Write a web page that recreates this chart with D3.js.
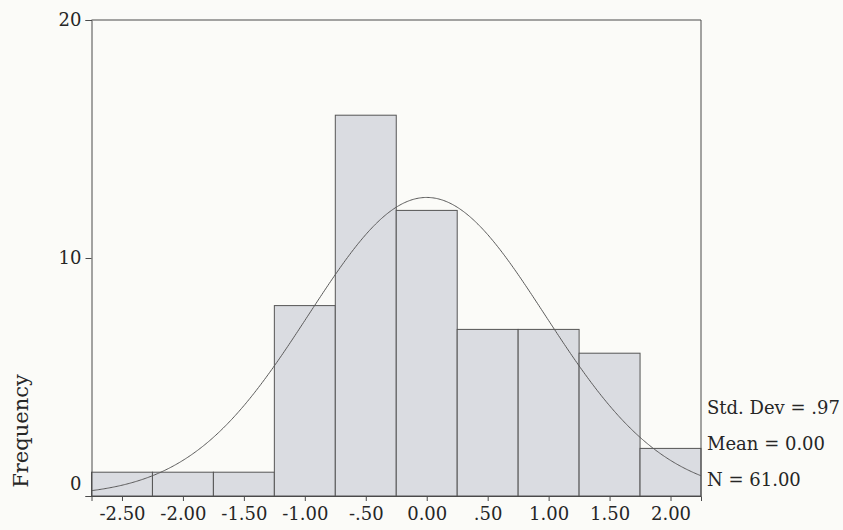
<!DOCTYPE html>
<html>
<head>
<meta charset="utf-8">
<script src="https://cdn.jsdelivr.net/npm/d3@7"></script>
<style>
  html, body { margin: 0; padding: 0; background: #fbfbf8; }
  svg { display: block; }
  text { font-family: "DejaVu Serif", "Liberation Serif", serif; fill: #262626; }
</style>
</head>
<body>
<svg id="chart" width="843" height="530"></svg>
<script>
// ---- data ----
const binCenters = [-2.5, -2.0, -1.5, -1.0, -0.5, 0.0, 0.5, 1.0, 1.5, 2.0];
const frequencies = [1, 1, 1, 8, 16, 12, 7, 7, 6, 2];
const xTickLabels = ["-2.50", "-2.00", "-1.50", "-1.00", "-.50", "0.00", ".50", "1.00", "1.50", "2.00"];
const yTicks = [0, 10, 20];
const binWidth = 0.5;
const stdDev = 0.97;
const mean = 0.00;
const nCount = 61;
const statsLines = ["Std. Dev = .97", "Mean = 0.00", "N = 61.00"];

// ---- scales ----
const svg = d3.select("#chart");
const x = d3.scaleLinear().domain([-2.75, 2.25]).range([91.5, 701]);
const y = d3.scaleLinear().domain([0, 20]).range([496, 20]);
const lineColor = "#4a4a4a";

// bars
svg.append("g").selectAll("rect")
  .data(binCenters.map((c, i) => ({c, f: frequencies[i]})))
  .join("rect")
  .attr("x", d => x(d.c - binWidth / 2))
  .attr("width", d => x(d.c + binWidth / 2) - x(d.c - binWidth / 2))
  .attr("y", d => y(d.f))
  .attr("height", d => y(0) - y(d.f))
  .attr("fill", "#dadce1")
  .attr("stroke", "#555")
  .attr("stroke-width", 1);

// frame (top & right)
svg.append("line").attr("x1", x(-2.75)).attr("x2", x(2.25)).attr("y1", y(20)).attr("y2", y(20))
  .attr("stroke", lineColor).attr("stroke-width", 1);
svg.append("line").attr("x1", x(2.25)).attr("x2", x(2.25)).attr("y1", y(20)).attr("y2", y(0))
  .attr("stroke", lineColor).attr("stroke-width", 1);

// normal curve from displayed statistics
const peak = nCount * binWidth / (stdDev * Math.sqrt(2 * Math.PI));
const curvePts = d3.range(-2.75, 2.2501, 0.01).map(v => [v, peak * Math.exp(-0.5 * Math.pow((v - mean) / stdDev, 2))]);
svg.append("path")
  .datum(curvePts)
  .attr("d", d3.line().x(d => x(d[0])).y(d => y(d[1])).curve(d3.curveLinear))
  .attr("fill", "none")
  .attr("stroke", "#5a5a5a")
  .attr("stroke-width", 1);

// y axis
const yAxis = svg.append("g").attr("transform", `translate(${x(-2.75)},0)`)
  .call(d3.axisLeft(y).tickValues(yTicks).tickSize(6).tickPadding(4).tickFormat(d3.format("d")));
yAxis.selectAll("path, line").attr("stroke", lineColor);
yAxis.selectAll("text").style("font-family", "DejaVu Serif, serif").style("font-size", "18px").attr("fill", "#262626")
  .attr("dy", d => d === 0 ? "-0.35em" : "0.3em");

// x axis
const xAxis = svg.append("g").attr("transform", `translate(0,${y(0)})`)
  .call(d3.axisBottom(x).tickValues(binCenters).tickSize(5).tickPadding(6)
    .tickFormat((d, i) => xTickLabels[i]));
xAxis.selectAll("path, line").attr("stroke", lineColor);
xAxis.selectAll("text").style("font-family", "DejaVu Serif, serif").style("font-size", "18px").attr("fill", "#262626");

// y axis title
svg.append("text")
  .attr("transform", "translate(28,431) rotate(-90)")
  .attr("text-anchor", "middle")
  .style("font-size", "21px")
  .text("Frequency");

// stats
svg.append("g").selectAll("text")
  .data(statsLines)
  .join("text")
  .attr("x", 707)
  .attr("y", (d, i) => 414 + i * 36)
  .style("font-size", "18px")
  .text(d => d);
</script>
</body>
</html>
